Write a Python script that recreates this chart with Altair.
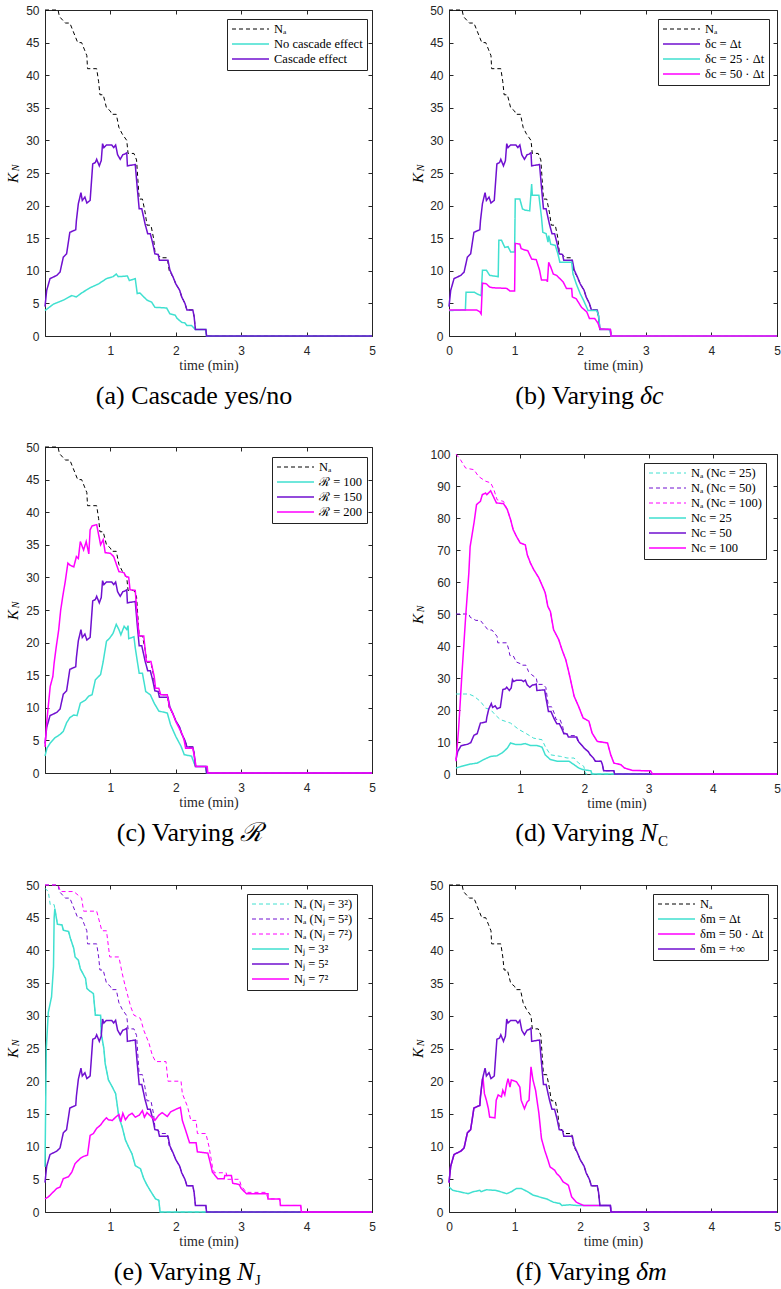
import altair as alt
import pandas as pd

W, H = 781, 1289
TXT = "#262626"
CYAN = "#40E0D0"
PURPLE = "#7010D0"
MAGENTA = "#FF00FF"
BLACK = "#000000"
SERIF = "Liberation Serif"
SANS = "Liberation Sans"

# ---------------- data (time in minutes, K_N values) ----------------
# reference run (cascade effect, dc = dt, R = 150, Nc = 50, Nj = 5^2, dm = +inf)
base_t = [0, 0.026, 0.077, 0.18, 0.23, 0.28, 0.33, 0.38, 0.47, 0.48, 0.51, 0.55, 0.57, 0.61, 0.64,
          0.69, 0.73, 0.77, 0.79, 0.83, 0.86, 0.88, 0.90, 0.94, 1.02, 1.05, 1.08, 1.11, 1.15, 1.19,
          1.22, 1.25, 1.26, 1.38, 1.41, 1.44, 1.48, 1.53, 1.57, 1.61, 1.65, 1.68, 1.73, 1.75, 1.88,
          1.91, 1.96, 2.0, 2.06, 2.09, 2.14, 2.17, 2.26, 2.28, 2.30, 2.46, 2.47, 5]
base_v = [4.5, 7, 8.8, 9.3, 9.8, 12.1, 12.6, 15.9, 16.3, 17.7, 20.3, 22, 20.8, 21.3, 20.4,
          20.8, 26.4, 26.6, 27.1, 26.1, 26.9, 29.5, 28.9, 29.3, 29.3, 28.9, 29.3, 27.8, 27.1, 27.8,
          27.9, 28.1, 26.1, 26.3, 22.8, 19.5, 19.5, 17.2, 15.7, 15.7, 14.1, 12.6, 12.5, 11.6, 11.6,
          10.1, 9.0, 8.0, 7.0, 6.0, 5.0, 4.0, 4.0, 3.0, 1.0, 1.0, 0, 0]

na_t = [0, 0.2, 0.22, 0.31, 0.38, 0.42, 0.5, 0.56, 0.60, 0.64, 0.65, 0.79, 0.82, 0.84, 0.89, 0.94,
        1.0, 1.02, 1.09, 1.13, 1.18, 1.25, 1.27, 1.36, 1.40, 1.42, 1.44, 1.49, 1.53, 1.56, 1.62,
        1.66, 1.68, 1.77, 1.87, 1.90, 1.96, 2.0, 2.06, 2.09, 2.14, 2.17, 2.26, 2.28, 2.30, 2.46, 2.47, 5]
na_v = [50, 50, 49, 48, 48, 47, 45, 45, 44, 43, 41, 41, 39, 37, 37, 35,
        34.5, 34, 34, 32, 31, 30, 28, 28, 27, 24, 21, 21, 19, 17, 17,
        15, 13, 12, 12, 10, 9, 8, 7, 6, 5, 4, 4, 3, 1, 1, 0, 0]

# (a) no cascade effect
nocasc_t = [0, 0.13, 0.28, 0.41, 0.48, 0.56, 0.69, 0.82, 0.94, 1.04, 1.09, 1.12, 1.26, 1.29, 1.38,
            1.41, 1.45, 1.56, 1.63, 1.68, 1.86, 1.91, 1.99, 2.02, 2.09, 2.14, 2.17, 2.24, 2.30, 2.46, 2.47, 5]
nocasc_v = [3.9, 4.9, 5.5, 6.2, 6.0, 6.6, 7.4, 8.0, 8.8, 9.1, 9.5, 9.1, 9.2, 8.5, 8.8,
            6.5, 6.6, 5.5, 5.2, 4.4, 4.3, 3.4, 3.2, 2.7, 2.1, 2.0, 1.6, 1.6, 1.0, 1.0, 0, 0]

# (b) dc = 25 dt and dc = 50 dt
dc25_t = [0, 0.25, 0.26, 0.39, 0.44, 0.49, 0.51, 0.57, 0.62, 0.75, 0.76, 0.80, 0.85, 0.90, 0.94,
          1.0, 1.01, 1.08, 1.12, 1.16, 1.23, 1.26, 1.27, 1.37, 1.41, 1.43, 1.48, 1.51, 1.52, 1.55,
          1.62, 1.66, 1.69, 1.87, 1.89, 1.94, 2.0, 2.05, 2.12, 2.25, 2.28, 2.30, 2.45, 2.47, 5]
dc25_v = [3.9, 4, 6.7, 6.7, 6.4, 6.2, 10.1, 10.1, 9.3, 9.1, 14.7, 14.7, 13.6, 13.7, 12.9,
          12.9, 21.0, 21.0, 19.5, 19.3, 19.2, 23.3, 21.6, 21.6, 18.2, 15.9, 15.7, 14.4, 15.4, 14.1,
          13.9, 12.6, 11.3, 11.3, 9.5, 8.0, 6.5, 5.5, 3.9, 3.9, 3.2, 1.1, 1.0, 0, 0]
dc50_t = [0, 0.42, 0.47, 0.49, 0.51, 0.57, 0.62, 0.67, 0.88, 0.93, 1.0, 1.01, 1.08, 1.10, 1.15,
          1.20, 1.26, 1.33, 1.38, 1.41, 1.49, 1.50, 1.52, 1.55, 1.59, 1.64, 1.74, 1.79, 1.87, 1.88,
          1.94, 2.02, 2.10, 2.14, 2.22, 2.27, 2.30, 2.46, 2.47, 5]
dc50_v = [4, 4, 3.7, 3.4, 8.1, 8.0, 7.5, 7.4, 7.3, 6.9, 6.9, 14.2, 14.1, 13.4, 13.2,
          13.1, 11.8, 11.7, 10.1, 8.6, 8.6, 8.3, 11.3, 10.6, 9.5, 9.3, 8.3, 7.3, 7.3, 6.0,
          5.7, 4.4, 3.7, 2.7, 2.7, 2.0, 1.1, 1.0, 0, 0]

# (c) R = 100 and R = 200
r100_t = [0, 0.03, 0.08, 0.15, 0.23, 0.28, 0.33, 0.38, 0.44, 0.49, 0.54, 0.62, 0.67, 0.72, 0.77,
          0.82, 0.85, 0.89, 0.94, 0.99, 1.04, 1.09, 1.13, 1.16, 1.21, 1.25, 1.27, 1.28, 1.36, 1.38,
          1.44, 1.49, 1.54, 1.61, 1.67, 1.74, 1.87, 1.92, 2.0, 2.08, 2.13, 2.24, 2.28, 2.31, 2.46, 2.47, 5]
r100_v = [2.6, 3.8, 4.6, 5.4, 5.9, 6.4, 7.7, 8.5, 8.9, 8.8, 10.7, 11.2, 11.8, 12, 14.3,
          14.8, 15.1, 17.1, 20.2, 20.7, 21.4, 22.8, 22, 21.2, 22.5, 22, 22.6, 20.6, 20.9, 19.2,
          15.3, 15.3, 12.5, 12, 10.7, 9.5, 9.2, 7.4, 5.6, 4.1, 2.8, 2.6, 1.5, 1.0, 1.0, 0, 0]
r200_t = [0, 0.03, 0.08, 0.12, 0.14, 0.17, 0.21, 0.24, 0.27, 0.31, 0.35, 0.38, 0.44, 0.48, 0.51,
          0.54, 0.56, 0.59, 0.63, 0.67, 0.69, 0.72, 0.79, 0.85, 0.89, 0.92, 1.0, 1.05, 1.13, 1.21,
          1.23, 1.28, 1.30, 1.38, 1.41, 1.44, 1.51, 1.55, 1.62, 1.67, 1.69, 1.74, 1.77, 1.87, 1.90,
          1.95, 2.0, 2.05, 2.10, 2.13, 2.15, 2.26, 2.28, 2.31, 2.48, 2.49, 5]
r200_v = [4, 8.2, 13.3, 14.8, 16.9, 19.2, 22, 25, 27, 29.4, 32.2, 31.9, 31.6, 33.2, 32.9,
          35.5, 35, 34.2, 35.5, 33.6, 37.3, 37.9, 38.1, 35, 35.8, 33.8, 33.7, 33.2, 30.9, 30.7,
          30.2, 30, 28.1, 28, 24, 21, 21, 17.1, 17.1, 14.8, 13, 13, 12, 12, 10.2,
          9.2, 7.9, 6.9, 5.9, 4.9, 3.8, 3.8, 2.8, 1.0, 1.0, 0, 0]

# (d) Nc = 25 and Nc = 100
nc100_t = [0, 0.04, 0.09, 0.15, 0.20, 0.22, 0.28, 0.32, 0.38, 0.41, 0.46, 0.48, 0.54, 0.58, 0.63,
           0.74, 0.80, 0.85, 0.89, 0.94, 1.0, 1.08, 1.11, 1.16, 1.21, 1.29, 1.37, 1.39, 1.43, 1.47,
           1.52, 1.60, 1.65, 1.71, 1.76, 1.84, 1.91, 1.98, 2.07, 2.12, 2.20, 2.36, 2.41, 2.46, 2.57,
           2.62, 2.75, 3.03, 3.06, 5]
nc100_v = [4, 13.9, 30.5, 49, 62.8, 71, 78.4, 84.2, 85.2, 87.3, 87.8, 87.3, 88.5, 86.8, 84.7,
           84.5, 82.6, 79.5, 76.4, 74.3, 72.2, 71.6, 68.5, 65.9, 63.9, 61.3, 57.6, 56.6, 52.4, 50.8,
           45.1, 42, 38.9, 35.7, 31.6, 24.3, 21.1, 17.5, 16.5, 12.8, 10.2, 9.7, 6.0, 3.4, 2.9,
           1.9, 1.1, 1.0, 0, 0]
na100_t = [0, 0.07, 0.15, 0.28, 0.35, 0.46, 0.54, 0.59, 0.64, 0.74, 0.80, 0.85, 0.89, 0.94, 1.0,
           1.08, 1.11, 1.16, 1.21, 1.29, 1.37, 1.39, 1.43, 1.47, 1.52, 1.60, 1.65, 1.71, 1.76, 1.84,
           1.91, 1.98, 2.07, 2.12, 2.20, 2.36, 2.41, 2.46, 2.57, 2.62, 2.75, 3.03, 3.06, 5]
na100_v = [100, 98.2, 95.6, 95.1, 93, 91.5, 91, 88.9, 85.7, 85.2, 82.6, 79.5, 76.4, 74.3, 72.2,
           71.6, 68.5, 65.9, 63.9, 61.3, 57.6, 56.6, 52.4, 50.8, 45.1, 42, 38.9, 35.7, 31.6, 24.3,
           21.1, 17.5, 16.5, 12.8, 10.2, 9.7, 6.0, 3.4, 2.9, 1.9, 1.1, 1.0, 0, 0]
nc25_t = [0, 0.09, 0.22, 0.33, 0.43, 0.54, 0.64, 0.72, 0.80, 0.85, 0.93, 1.0, 1.08, 1.16, 1.26,
          1.34, 1.39, 1.47, 1.58, 1.76, 1.84, 1.91, 1.97, 2.10, 2.12, 5]
nc25_v = [1.9, 2.4, 3.1, 3.4, 4.5, 5.5, 5.7, 6.6, 8.1, 9.7, 9.2, 9.2, 9.5, 8.9, 8.9,
          8.4, 6.0, 4.5, 4.0, 4.0, 2.9, 1.9, 1.4, 1.0, 0, 0]
na25_t = [0, 0.2, 0.28, 0.38, 0.46, 0.54, 0.61, 0.69, 0.85, 0.98, 1.08, 1.21, 1.34, 1.39, 1.47,
          1.63, 1.73, 1.84, 1.91, 1.99, 2.02, 5]
na25_v = [25, 25, 24.3, 22.7, 20.6, 20.1, 18.5, 17, 15.9, 13.9, 12.8, 11.2, 10.7, 8.6, 6.0,
          5.5, 5.0, 5.0, 3.4, 2.4, 0, 0]

# (e) Nj = 3^2 and Nj = 7^2
nj3_t = [0, 0.02, 0.05, 0.10, 0.13, 0.14, 0.15, 0.19, 0.26, 0.28, 0.36, 0.39, 0.44, 0.46, 0.51,
         0.54, 0.62, 0.64, 0.67, 0.74, 0.77, 0.85, 0.86, 0.90, 0.92, 0.97, 1.03, 1.08, 1.13, 1.18,
         1.23, 1.28, 1.33, 1.38, 1.46, 1.51, 1.56, 1.62, 1.69, 1.74, 1.76, 5]
nj3_v = [6.9, 25, 30.5, 32.9, 37.5, 45, 46.4, 44, 43.9, 43.1, 42.9, 41.8, 40.3, 39, 38.5,
         37.2, 35.7, 34.2, 33.9, 33.4, 30.1, 30.1, 27.3, 25, 22.7, 20.2, 19.1, 18.1, 14.5, 13,
         11, 9.9, 8.9, 7.1, 6.6, 5.1, 4.1, 3.1, 2.0, 1.8, 0, 0]
na3_t = [0, 0.05, 0.08, 0.14, 0.15, 0.19, 0.26, 0.28, 0.36, 0.39, 0.44, 0.46, 0.51,
         0.54, 0.62, 0.64, 0.67, 0.74, 0.77, 0.85, 0.86, 0.90, 0.92, 0.97, 1.03, 1.08, 1.13, 1.18,
         1.23, 1.28, 1.33, 1.38, 1.46, 1.51, 1.56, 1.62, 1.69, 1.74, 1.76, 5]
na3_v = [49.5, 49, 47, 47, 46.4, 44, 43.9, 43.1, 42.9, 41.8, 40.3, 39, 38.5,
         37.2, 35.7, 34.2, 33.9, 33.4, 30.1, 30.1, 27.3, 25, 22.7, 20.2, 19.1, 18.1, 14.5, 13,
         11, 9.9, 8.9, 7.1, 6.6, 5.1, 4.1, 3.1, 2.0, 1.8, 0, 0]
nj7_t = [0, 0.05, 0.13, 0.18, 0.23, 0.28, 0.36, 0.41, 0.46, 0.54, 0.59, 0.65, 0.69, 0.74, 0.79,
         0.85, 0.90, 0.94, 0.97, 1.03, 1.08, 1.13, 1.16, 1.19, 1.23, 1.28, 1.33, 1.38, 1.44, 1.49,
         1.52, 1.56, 1.62, 1.68, 1.74, 1.79, 1.87, 1.92, 2.0, 2.07, 2.10, 2.15, 2.21, 2.31, 2.33,
         2.49, 2.53, 2.56, 2.64, 2.74, 2.75, 2.85, 2.87, 2.97, 3.0, 3.08, 3.41, 3.41, 3.59, 3.60,
         3.91, 3.92, 5]
nj7_v = [2.0, 2.3, 3.1, 3.6, 3.8, 5.1, 5.4, 6.1, 7.4, 8.2, 8.5, 8.7, 11.7, 12, 12.8,
         13.3, 14.0, 14.4, 14.1, 14, 14.5, 14.9, 13.8, 15.1, 14.1, 14.8, 15.1, 14.5, 14.8, 15.5,
         14.5, 15.2, 14.6, 14.0, 14.8, 15.2, 14.6, 15.3, 15.7, 16.0, 14.0, 12.5, 10.6, 10.6, 9.2,
         9.0, 7.4, 6.1, 5.1, 5.1, 5.6, 5.6, 4.4, 4.2, 3.6, 2.8, 2.8, 2.0, 2.0, 1.0,
         1.0, 0, 0]
na7_t = [0, 0.2, 0.24, 0.44, 0.56, 0.59, 0.79, 0.87, 0.94, 0.99, 1.13, 1.18, 1.23, 1.31, 1.36,
         1.46, 1.51, 1.59, 1.64, 1.69, 1.85, 1.88, 2.08, 2.10, 2.18, 2.23, 2.31, 2.33, 2.46, 2.51,
         2.56, 2.59, 2.77, 2.79, 2.97, 3.0, 3.08, 3.38, 3.41, 3.59, 3.60, 3.91, 3.92, 5]
na7_v = [50, 50, 49, 49, 48, 46, 46, 43, 43, 39, 39, 36.5, 34.4, 31.4, 30.1,
         29.6, 27.8, 25.8, 24, 23, 23, 20, 20, 18.1, 16.1, 14, 14, 12, 12, 9.9,
         6.9, 6, 6, 5, 5, 4, 3, 3, 2, 2, 1, 1, 0, 0]

# (f) dm = dt and dm = 50 dt
dm1_t = [0, 0.06, 0.16, 0.29, 0.37, 0.47, 0.49, 0.57, 0.72, 0.88, 0.95, 1.03, 1.10, 1.18, 1.28,
         1.38, 1.49, 1.59, 1.69, 1.72, 1.84, 1.94, 2.05, 2.46, 2.47, 5]
dm1_v = [3.8, 3.3, 3.1, 2.8, 3.1, 3.3, 3.1, 3.4, 3.3, 2.8, 3.1, 3.6, 3.6, 3.2, 2.6,
         2.3, 2.0, 1.5, 1.3, 1.0, 1.1, 1.0, 1.0, 1.0, 0, 0]
dm50_t = [0, 0.026, 0.077, 0.18, 0.23, 0.28, 0.33, 0.38, 0.47, 0.48, 0.51, 0.52, 0.54, 0.57, 0.60,
          0.62, 0.70, 0.72, 0.75, 0.80, 0.82, 0.85, 0.88, 0.90, 0.93, 0.95, 1.03, 1.08, 1.10, 1.15,
          1.19, 1.22, 1.25, 1.28, 1.32, 1.37, 1.41, 1.46, 1.51, 1.54, 1.61, 1.64, 1.69, 1.74, 1.82,
          1.87, 1.94, 2.05, 2.46, 2.47, 5]
dm50_v = [4.5, 7, 8.8, 9.3, 9.8, 12.1, 12.6, 15.9, 16.3, 17.7, 20.3, 20.4, 18.1, 17.1, 15.8,
          14.5, 14.4, 17.1, 17.9, 17.6, 18.6, 17.9, 19.6, 20.4, 19.1, 20.2, 19.9, 19.1, 17.1, 15.8,
          16.8, 17.1, 22.2, 20.2, 18.6, 15.1, 11.2, 9.4, 7.9, 6.9, 6.4, 5.9, 5.4, 4.6, 4.1,
          2.3, 1.5, 1.0, 1.0, 0, 0]

# ---------------- panels ----------------
DASH = [4, 3]
SOLID = [1, 0]

panels = [
    dict(x0=45, x1=372, yb=336, yt=10, ymax=50, xlab=[1, 2, 3, 4, 5], leg=(227, 19),
         series=[("Nₐ", na_t, na_v, BLACK, DASH, 1.0),
                 ("No cascade effect", nocasc_t, nocasc_v, CYAN, SOLID, 1.5),
                 ("Cascade effect", base_t, base_v, PURPLE, SOLID, 1.5)]),
    dict(x0=449, x1=777, yb=336, yt=10, ymax=50, xlab=[0, 1, 2, 3, 4, 5], leg=(658, 19),
         series=[("Nₐ", na_t, na_v, BLACK, DASH, 1.0),
                 ("δc = Δt", base_t, base_v, PURPLE, SOLID, 1.5),
                 ("δc = 25 · Δt", dc25_t, dc25_v, CYAN, SOLID, 1.5),
                 ("δc = 50 · Δt", dc50_t, dc50_v, MAGENTA, SOLID, 1.5)]),
    dict(x0=45, x1=372, yb=773, yt=447, ymax=50, xlab=[1, 2, 3, 4, 5], leg=(272, 457),
         series=[("Nₐ", na_t, na_v, BLACK, DASH, 1.0),
                 ("ℛ = 100", r100_t, r100_v, CYAN, SOLID, 1.5),
                 ("ℛ = 150", base_t, base_v, PURPLE, SOLID, 1.5),
                 ("ℛ = 200", r200_t, r200_v, MAGENTA, SOLID, 1.5)]),
    dict(x0=456, x1=777, yb=774, yt=454, ymax=100, xlab=[1, 2, 3, 4, 5], leg=(644, 463),
         series=[("Nₐ (Nᴄ = 25)", na25_t, na25_v, CYAN, DASH, 1.0),
                 ("Nₐ (Nᴄ = 50)", na_t, na_v, PURPLE, DASH, 1.0),
                 ("Nₐ (Nᴄ = 100)", na100_t, na100_v, MAGENTA, DASH, 1.0),
                 ("Nᴄ = 25", nc25_t, nc25_v, CYAN, SOLID, 1.5),
                 ("Nᴄ = 50", base_t, base_v, PURPLE, SOLID, 1.5),
                 ("Nᴄ = 100", nc100_t, nc100_v, MAGENTA, SOLID, 1.5)]),
    dict(x0=45, x1=372, yb=1212, yt=885, ymax=50, xlab=[1, 2, 3, 4, 5], leg=(247, 894),
         series=[("Nₐ (Nⱼ = 3²)", na3_t, na3_v, CYAN, DASH, 1.0),
                 ("Nₐ (Nⱼ = 5²)", na_t, na_v, PURPLE, DASH, 1.0),
                 ("Nₐ (Nⱼ = 7²)", na7_t, na7_v, MAGENTA, DASH, 1.0),
                 ("Nⱼ = 3²", nj3_t, nj3_v, CYAN, SOLID, 1.5),
                 ("Nⱼ = 5²", base_t, base_v, PURPLE, SOLID, 1.5),
                 ("Nⱼ = 7²", nj7_t, nj7_v, MAGENTA, SOLID, 1.5)]),
    dict(x0=449, x1=777, yb=1212, yt=885, ymax=50, xlab=[0, 1, 2, 3, 4, 5], leg=(653, 894),
         series=[("Nₐ", na_t, na_v, BLACK, DASH, 1.0),
                 ("δm = Δt", dm1_t, dm1_v, CYAN, SOLID, 1.5),
                 ("δm = 50 · Δt", dm50_t, dm50_v, MAGENTA, SOLID, 1.5),
                 ("δm = +∞", base_t, base_v, PURPLE, SOLID, 1.5)]),
]


def make_df(series):
    rows = []
    for label, ts, vs, *_ in series:
        for i, (t, v) in enumerate(zip(ts, vs)):
            rows.append({"t": t, "v": v, "s": label, "i": i})
    return pd.DataFrame(rows)


def panel_layers(p):
    x0, x1, yb, yt, ymax = p["x0"], p["x1"], p["yb"], p["yt"], p["ymax"]
    step = 10 if ymax == 100 else 5
    yvals = list(range(0, ymax + 1, step))
    xs = alt.Scale(domain=[0, 5], range=[x0, x1], nice=False, zero=False)
    ys = alt.Scale(domain=[0, ymax], range=[yb, yt], nice=False, zero=False)
    labels = [s[0] for s in p["series"]]
    leg = alt.Legend(orient="none", legendX=p["leg"][0], legendY=p["leg"][1], title=None,
                     symbolType="stroke", symbolSize=1369, symbolStrokeWidth=1.5,
                     clipHeight=12, rowPadding=2, padding=4, strokeColor="#222222",
                     fillColor="white", labelFont=SERIF, labelFontSize=12.5, labelColor="black",
                     labelOffset=4, cornerRadius=0, labelLimit=300)
    df = make_df(p["series"])
    lines = alt.Chart(df).mark_line(clip=False).encode(
        x=alt.X("t:Q", scale=xs, axis=alt.Axis(
            orient="bottom", offset=yb - H, values=p["xlab"], format="d", grid=False,
            domain=True, domainColor=TXT, domainWidth=1, ticks=False,
            labelFont=SANS, labelFontSize=12, labelColor=TXT, labelPadding=9, labelFlush=False,
            title="time (min)", titleFont=SERIF, titleFontSize=14, titleFontWeight="normal",
            titleColor=TXT, titlePadding=2)),
        y=alt.Y("v:Q", scale=ys, axis=alt.Axis(
            orient="left", offset=-x0, values=yvals, format="d", grid=False,
            domain=True, domainColor=TXT, domainWidth=1, ticks=False,
            labelFont=SANS, labelFontSize=12, labelColor=TXT, labelPadding=6, labelFlush=False,
            title=None)),
        color=alt.Color("s:N", scale=alt.Scale(domain=labels, range=[s[3] for s in p["series"]]), legend=leg),
        strokeDash=alt.StrokeDash("s:N", scale=alt.Scale(domain=labels, range=[s[4] for s in p["series"]]), legend=leg),
        strokeWidth=alt.StrokeWidth("s:N", scale=alt.Scale(type="ordinal", domain=labels,
                                                          range=[s[5] for s in p["series"]]), legend=None),
        order=alt.Order("i:Q"),
    )
    pts = pd.DataFrame({"t": [0, 5], "v": [0, ymax]})

    def ghost(xa, ya):
        return alt.Chart(pts).mark_point(opacity=0).encode(
            x=alt.X("t:Q", scale=xs, axis=xa), y=alt.Y("v:Q", scale=ys, axis=ya))

    frame = ghost(
        alt.Axis(orient="top", offset=-yt, domain=True, domainColor=TXT, ticks=False, labels=False, grid=False, title=None),
        alt.Axis(orient="right", offset=x1 - W, domain=True, domainColor=TXT, ticks=False, labels=False, grid=False, title=None))
    ticks_bl = ghost(
        alt.Axis(orient="bottom", offset=yb - 4 - H, values=list(range(6)), domain=False, ticks=True, tickSize=4,
                 tickColor=TXT, labels=False, grid=False, title=None),
        alt.Axis(orient="left", offset=-(x0 + 4), values=yvals, domain=False, ticks=True, tickSize=4,
                 tickColor=TXT, labels=False, grid=False, title=None))
    ticks_tr = ghost(
        alt.Axis(orient="top", offset=-(yt + 4), values=list(range(6)), domain=False, ticks=True, tickSize=4,
                 tickColor=TXT, labels=False, grid=False, title=None),
        alt.Axis(orient="right", offset=(x1 - 4) - W, values=yvals, domain=False, ticks=True, tickSize=4,
                 tickColor=TXT, labels=False, grid=False, title=None))
    return [lines, frame, ticks_bl, ticks_tr]


def txt(s, x, y, size, style="normal", align="center", angle=0, baseline="alphabetic", font=SERIF):
    return alt.Chart(pd.DataFrame({"s": [s]})).mark_text(
        font=font, fontSize=size, fontStyle=style, align=align, baseline=baseline,
        angle=angle, color="black").encode(text="s:N", x=alt.value(x), y=alt.value(y))


layers = []
for p in panels:
    layers += panel_layers(p)

# y-axis titles K_N
for (kx, ky) in [(13, 178), (418, 178), (13, 615), (418, 619), (13, 1053), (418, 1053)]:
    layers.append(txt("K", kx, ky, 15, style="italic", angle=270, baseline="middle"))
    layers.append(txt("N", kx + 3, ky - 10, 10, style="italic", angle=270, baseline="middle"))

# captions
CAP = 26
layers.append(txt("(a) Cascade yes/no", 194, 404, CAP))
layers.append(txt("(b) Varying", 634, 404, CAP, align="right"))
layers.append(txt("δc", 640, 404, CAP, style="italic", align="left"))
layers.append(txt("(c) Varying", 234, 841, CAP, align="right"))
layers.append(txt("ℛ", 240, 841, CAP, style="italic", align="left"))
layers.append(txt("(d) Varying", 634, 841, CAP, align="right"))
layers.append(txt("N", 640, 841, CAP, style="italic", align="left"))
layers.append(txt("C", 658, 846, 15, align="left"))
layers.append(txt("(e) Varying", 231, 1280, CAP, align="right"))
layers.append(txt("N", 237, 1280, CAP, style="italic", align="left"))
layers.append(txt("J", 255, 1285, 15, align="left"))
layers.append(txt("(f) Varying", 630, 1280, CAP, align="right"))
layers.append(txt("δm", 636, 1280, CAP, style="italic", align="left"))

chart = alt.layer(*layers).resolve_scale(
    x="independent", y="independent", color="independent", strokeDash="independent",
    strokeWidth="independent"
).resolve_axis(x="independent", y="independent").resolve_legend(
    color="independent", strokeDash="independent"
).properties(
    width=W, height=H, autosize=alt.AutoSizeParams(type="none"), padding=0, background="white"
).configure_view(strokeWidth=0)

chart.save("out.html", embed_options={"renderer": "svg", "actions": False})
